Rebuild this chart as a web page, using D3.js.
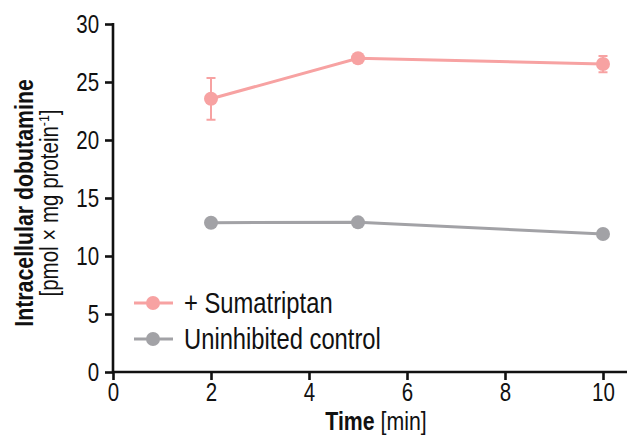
<!DOCTYPE html>
<html>
<head>
<meta charset="utf-8">
<script src="https://cdn.jsdelivr.net/npm/d3@7"></script>
<style>
  body { margin: 0; background: #fff; }
  text { font-family: "Liberation Sans", Arial, sans-serif; fill: #111; }
</style>
</head>
<body>
<script>
var width = 628,
    height = 435,
    squeeze = 0.82;   // narrow font look

// data
var times = [2, 5, 10];
var sumatriptan = [23.55, 27.05, 26.55];
var sumatriptanErr = [1.8, 0.15, 0.7];
var control = [12.87, 12.9, 11.9];
var seriesNames = ['+ Sumatriptan', 'Uninhibited control'];
var xTicks = [0, 2, 4, 6, 8, 10];
var yTicks = [0, 5, 10, 15, 20, 25, 30];

var colors = { sum: '#f7a2a2', ctrl: '#a2a2a6' };

var svg = d3.select('body').append('svg')
    .attr('width', width)
    .attr('height', height);

var x = d3.scaleLinear().domain([0, 10]).range([113, 603]);
var y = d3.scaleLinear().domain([0, 30]).range([372, 24]);

// axes
var xAxis = svg.append('g').attr('transform', 'translate(0,' + y(0) + ')')
    .call(d3.axisBottom(x).tickValues(xTicks).tickSize(8).tickPadding(3).tickFormat(d3.format('d')));
xAxis.select('.domain').attr('d', 'M' + (x(0) - 1) + ',0H' + 627);
var yAxis = svg.append('g').attr('transform', 'translate(' + x(0) + ',0)')
    .call(d3.axisLeft(y).tickValues(yTicks).tickSize(8).tickPadding(9).tickFormat(d3.format('d')));
yAxis.select('.domain').attr('d', 'M0,' + (y(0) + 1) + 'V' + (y(30) - 1));

svg.selectAll('.domain').attr('stroke', '#111').attr('stroke-width', 2.6);
svg.selectAll('.tick line').attr('stroke', '#111').attr('stroke-width', 2.6);
svg.selectAll('.tick text')
  .style('font-size', '25px')
  .attr('fill', '#111')
  .attr('transform', 'scale(' + squeeze + ',1)');

// series
var line = d3.line().x(function(d){ return x(d[0]); }).y(function(d){ return y(d[1]); });

function drawSeries(vals, errs, col) {
  var pts = times.map(function(t, i){ return [t, vals[i]]; });
  var g = svg.append('g');
  if (errs) {
    pts.forEach(function(p, i){
      if (errs[i] < 0.3) return;
      var cx = x(p[0]);
      g.append('path')
        .attr('d', 'M' + cx + ',' + y(p[1] + errs[i]) + 'V' + y(p[1] - errs[i]) +
             'M' + (cx - 4.5) + ',' + y(p[1] + errs[i]) + 'h9' +
             'M' + (cx - 4.5) + ',' + y(p[1] - errs[i]) + 'h9')
        .attr('stroke', col).attr('stroke-width', 2).attr('fill', 'none');
    });
  }
  g.append('path').datum(pts).attr('d', line)
    .attr('stroke', col).attr('stroke-width', 3).attr('fill', 'none');
  g.selectAll('circle').data(pts).enter().append('circle')
    .attr('cx', function(d){ return x(d[0]); })
    .attr('cy', function(d){ return y(d[1]); })
    .attr('r', 7)
    .attr('fill', col);
}

drawSeries(control, null, colors.ctrl);
drawSeries(sumatriptan, sumatriptanErr, colors.sum);

// legend
var legend = svg.append('g');
[colors.sum, colors.ctrl].forEach(function(c, i){
  var ly = 303 + i * 36;
  legend.append('line').attr('x1', 134).attr('x2', 173).attr('y1', ly).attr('y2', ly)
    .attr('stroke', c).attr('stroke-width', 3);
  legend.append('circle').attr('cx', 153).attr('cy', ly).attr('r', 7).attr('fill', c);
  legend.append('g').attr('transform', 'translate(184,' + (ly + 10) + ') scale(' + squeeze + ',1)')
    .append('text').style('font-size', '29px').text(seriesNames[i]);
});

// axis titles
var xt = svg.append('g').attr('transform', 'translate(376,430) scale(' + squeeze + ',1)')
  .append('text').attr('text-anchor', 'middle').style('font-size', '26px');
xt.append('tspan').style('font-weight', 'bold').text('Time');
xt.append('tspan').text(' [min]');

var yt = svg.append('g').attr('transform', 'translate(33,203) rotate(-90) scale(' + squeeze + ',1)');
yt.append('text').attr('text-anchor', 'middle')
  .style('font-size', '26px').style('font-weight', 'bold').text('Intracellular dobutamine');
var yt2 = yt.append('text').attr('y', 25).attr('text-anchor', 'middle').style('font-size', '25px');
yt2.append('tspan').text('[pmol × mg protein');
yt2.append('tspan').attr('dy', -9).style('font-size', '15px').text('-1');
yt2.append('tspan').attr('dy', 9).text(']');
</script>
</body>
</html>
